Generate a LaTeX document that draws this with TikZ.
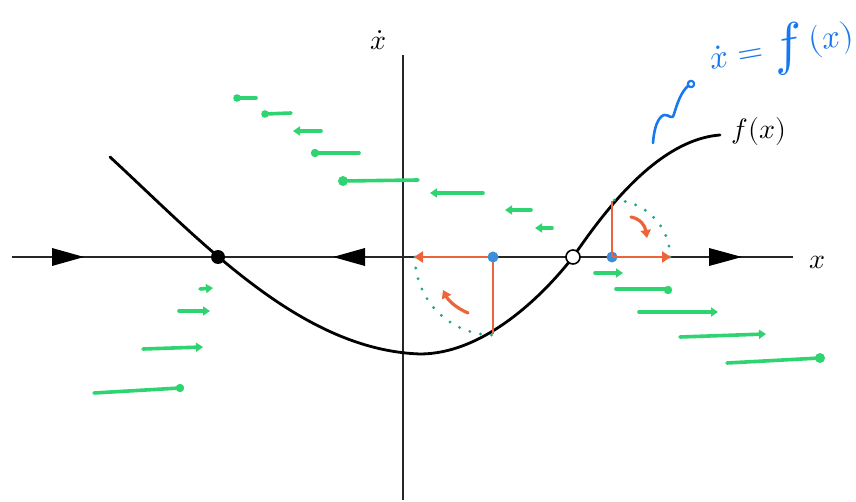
\documentclass[tikz,border=0pt]{standalone}
\usepackage{unicode-math}
\usetikzlibrary{arrows.meta}
\definecolor{hgreen}{RGB}{46,212,112}
\definecolor{horange}{RGB}{238,100,58}
\definecolor{hteal}{RGB}{28,170,140}
\definecolor{hdot}{RGB}{58,142,219}
\definecolor{hblue}{RGB}{24,120,240}
\begin{document}
\begin{tikzpicture}[x=1pt,y=-1pt,
  axis/.style={line width=1.6pt,black!85},
  curve/.style={line width=2.8pt,black,line cap=round},
  lab/.style={inner sep=0pt,font=\fontsize{28}{32}\selectfont},
  stablept/.style={circle,fill=black,minimum size=14pt,inner sep=0pt},
  unstablept/.style={circle,draw=black,line width=1.6pt,fill=white,minimum size=14pt,inner sep=0pt},
  bluedot/.style={circle,fill=hdot,minimum size=11pt,inner sep=0pt},
  oline/.style={line width=2.6pt,horange},
  oarrow/.style={line width=2.6pt,horange,-{Triangle[length=9pt,width=11pt]}},
  ocurl/.style={line width=3.2pt,horange,line cap=round,-{Triangle[length=8pt,width=10pt]}},
  tealdots/.style={line width=3.2pt,hteal,line cap=round,dash pattern=on 0pt off 11pt},
  gr/.style={line width=3.6pt,hgreen,line cap=round},
  grl/.style={gr,{Triangle[length=7pt,width=9pt]}-},
  grr/.style={gr,-{Triangle[length=7pt,width=9pt]}},
  hand/.style={line width=2.6pt,hblue,line cap=round,line join=round},
  htext/.style={inner sep=0pt,text=hblue,rotate=10,font=\fontsize{33}{36}\selectfont}
]
\useasboundingbox (0,0) rectangle (856,502);
% axes
\coordinate (xl) at (12,257);
\coordinate (xr) at (793,257);
\coordinate (yt) at (403,55);
\coordinate (yb) at (403,500);
\draw[axis] (xl) -- (xr);
\draw[axis] (yt) -- (yb);
\node[lab] (xlab) at (817,262) {$x$};
\node[lab] (ylab) at (379,40) {$\dot{x}$};
\node[lab] (flab) at (759,132) {$f(x)$};
% flow triangles on the axis
\fill (52,248) -- (84,257) -- (52,266) -- cycle;
\fill (365,248) -- (333,257) -- (365,266) -- cycle;
\fill (709,248) -- (742,257) -- (709,266) -- cycle;
% green hand-drawn flow arrows (upper middle, leftward)
\draw[gr] (237,98) -- (256,98);   \fill[hgreen] (237,98) circle (3.8);
\draw[gr] (265,114) -- (291,113); \fill[hgreen] (265,114) circle (3.8);
\draw[grl] (293,131) -- (321,131);
\draw[gr] (315,153) -- (359,153); \fill[hgreen] (315,153) circle (4.2);
\draw[gr] (343,181) -- (418,180); \fill[hgreen] (343,181) circle (5);
\draw[grl] (430,193) -- (483,193);
\draw[grl] (505,210) -- (531,210);
\draw[grl] (535,228) -- (552,228);
% green arrows right, rightward
\draw[grr] (595,273) -- (623,273);
\draw[gr] (616,289) -- (668,289); \fill[hgreen] (668,290) circle (4.2);
\draw[grr] (639,312) -- (718,312);
\draw[grr] (680,337) -- (766,334);
\draw[gr] (727,363) -- (820,358); \fill[hgreen] (820,358) circle (5);
% green arrows lower left, rightward
\draw[grr] (200,289) -- (213,288);
\draw[grr] (179,311) -- (210,311);
\draw[grr] (143,349) -- (203,347);
\draw[gr] (94,393) -- (180,388); \fill[hgreen] (180,388) circle (4.2);
% the curve f(x)
\coordinate (cs) at (110,157);
\coordinate (cm) at (420,354);
\coordinate (cz) at (573,257);
\coordinate (ce) at (720,135);
\draw[curve] (cs) .. controls (200,240) and (300,350) .. (cm)
  .. controls (483,354) and (542,297) .. (cz)
  .. controls (600,218) and (655,140) .. (ce);
% fixed points
\node[stablept] (p1) at (218,257) {};
\node[unstablept] (p2) at (cz) {};
% construction left
\coordinate (c1) at (493,334);
\coordinate (t1) at (414,257);
\draw[tealdots] plot[domain=180:270,samples=60] ({493+78*cos(\x)},{257-78*sin(\x)});
\draw[oline] (493,257) -- (c1);
\draw[oarrow] (493,257) -- (t1);
\node[bluedot] (b1) at (493,257) {};
\draw[ocurl] (468,313) .. controls (456,308) and (448,300) .. (443,290);
% construction right
\coordinate (c2) at (612,201);
\coordinate (t2) at (671,257);
\draw[tealdots] plot[domain=0:90,samples=60] ({612+58*cos(\x)},{257-57*sin(\x)});
\node[bluedot] (b2) at (612,257) {};
\draw[oline] (b2.center) -- (c2);
\draw[oarrow] (b2.center) -- (t2);
\draw[ocurl] (631,217) .. controls (641,219) and (645,226) .. (647,238);
% blue handwriting
\draw[hand] (653,143) .. controls (654,128) and (658,117) .. (664,115)
  .. controls (669,114) and (672,121) .. (674,114)
  .. controls (677,104) and (681,92) .. (688,86);
\draw[hand,line width=2.2pt] (691,84) circle (3.2);
\node[htext] (hw) at (782,50) {$\dot{x} = \raisebox{-7pt}{\fontsize{56}{60}\selectfont$f$}\,(x)$};
\end{tikzpicture}
\end{document}
